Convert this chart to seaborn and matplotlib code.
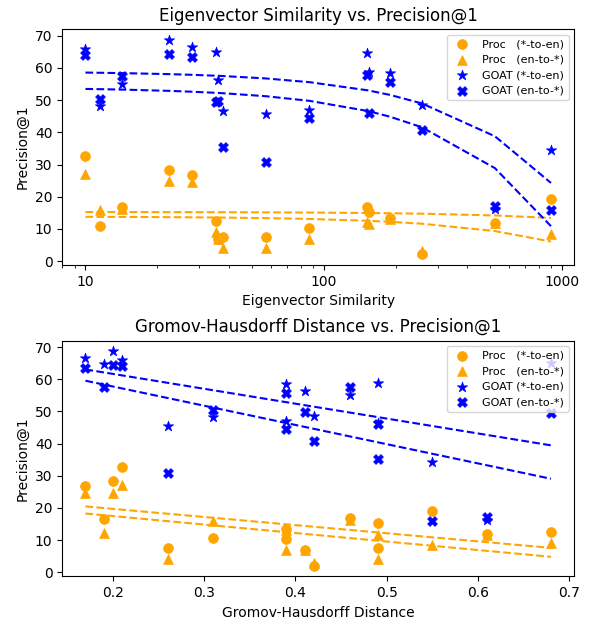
import numpy as np
import pandas as pd
import seaborn as sns
import matplotlib
matplotlib.use('Agg')
import matplotlib.pyplot as plt
from matplotlib.ticker import ScalarFormatter

# one entry per language pair
eig_sim = [10.0, 11.5, 14.2, 22.4, 28.0, 35.2, 35.9, 37.7, 57.0, 87.0, 152, 155, 189, 258, 522, 897]
gh_dist = [0.21, 0.31, 0.46, 0.20, 0.17, 0.68, 0.41, 0.49, 0.26, 0.39, 0.19, 0.49, 0.39, 0.42, 0.61, 0.55]
proc_x2en = [32.7, 10.8, 16.8, 28.3, 26.8, 12.6, 7.0, 7.5, 7.6, 10.2, 16.7, 15.4, 13.5, 2.1, 11.8, 19.2]
proc_en2x = [27.0, 16.0, 16.3, 24.8, 24.7, 9.0, 7.0, 4.2, 4.0, 6.9, 12.1, 11.6, 13.1, 3.0, 11.7, 8.4]
goat_x2en = [66.0, 48.3, 55.0, 68.7, 66.6, 65.0, 56.3, 46.5, 45.6, 47.0, 64.6, 58.8, 58.6, 48.6, 16.3, 34.4]
goat_en2x = [64.0, 50.5, 57.5, 64.3, 63.4, 49.5, 49.8, 35.3, 30.9, 44.5, 57.7, 46.0, 55.8, 40.7, 17.2, 15.8]

df = pd.DataFrame({'eig': eig_sim, 'gh': gh_dist,
                   'proc_x2en': proc_x2en, 'proc_en2x': proc_en2x,
                   'goat_x2en': goat_x2en, 'goat_en2x': goat_en2x})

series = [('proc_x2en', 'Proc   (*-to-en)', 'o', 'orange'),
          ('proc_en2x', 'Proc   (en-to-*)', '^', 'orange'),
          ('goat_x2en', 'GOAT (*-to-en)', '*', 'blue'),
          ('goat_en2x', 'GOAT (en-to-*)', 'X', 'blue')]

fig, axes = plt.subplots(2, 1, figsize=(5.92, 6.23), dpi=100)

for ax, xcol, xlabel, title in [(axes[0], 'eig', 'Eigenvector Similarity', 'Eigenvector Similarity vs. Precision@1'),
                                (axes[1], 'gh', 'Gromov-Hausdorff Distance', 'Gromov-Hausdorff Distance vs. Precision@1')]:
    for col, label, marker, color in series:
        sns.scatterplot(data=df, x=xcol, y=col, marker=marker, color=color, s=60 if marker == '*' else 50,
                        edgecolor=color, linewidth=0.5, label=label, ax=ax)
    for col, label, marker, color in series:
        # linear fit in raw x, drawn through the sorted data x values
        coef = np.polyfit(df[xcol], df[col], 1)
        fit = pd.DataFrame({'x': df[xcol], 'y': np.polyval(coef, df[xcol])})
        sns.lineplot(data=fit, x='x', y='y', color=color, linestyle='--', errorbar=None, legend=False, ax=ax)
    if xcol == 'eig':
        ax.set_xscale('log')
        ax.xaxis.set_major_formatter(ScalarFormatter())
    ax.set_title(title, fontsize=12)
    ax.set_xlabel(xlabel)
    ax.set_ylabel('Precision@1')
    ax.set_yticks(range(0, 71, 10))
    ax.legend(loc='upper right', fontsize=8)

plt.subplots_adjust(left=0.105, right=0.97, top=0.953, bottom=0.075, hspace=0.32)
plt.savefig('out.png')
